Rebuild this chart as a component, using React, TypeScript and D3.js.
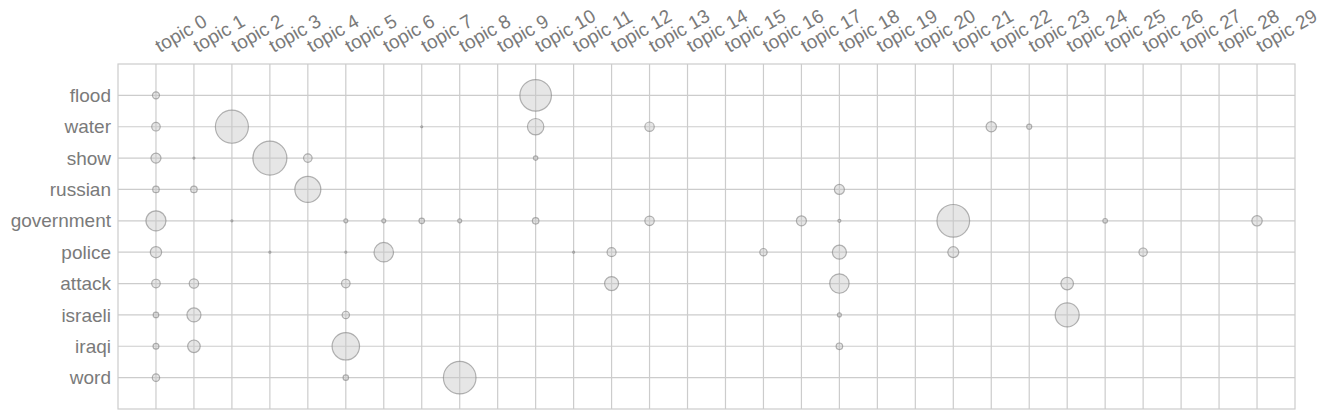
import * as d3 from "d3";
import { useEffect, useRef } from "react";

// topic labels along the top, words down the side
const topics = d3.range(30).map(i => "topic " + i);
const words = ["flood", "water", "show", "russian", "government", "police", "attack", "israeli", "iraqi", "word"];

// [topic index, weight] for each word
const flood = [[0, 0.013], [10, 0.259]];
const water = [[0, 0.019], [2, 0.283], [7, 0.001], [10, 0.07], [13, 0.023], [22, 0.028], [23, 0.0065]];
const show = [[0, 0.026], [1, 0.001], [3, 0.3], [4, 0.019], [10, 0.005]];
const russian = [[0, 0.011], [1, 0.011], [4, 0.175], [18, 0.026]];
const government = [[0, 0.104], [2, 0.001], [5, 0.004], [6, 0.004], [7, 0.008], [8, 0.004], [10, 0.011], [13, 0.023], [17, 0.026], [18, 0.0023], [21, 0.276], [25, 0.0055], [29, 0.028]];
const police = [[0, 0.033], [3, 0.001], [5, 0.001], [6, 0.098], [11, 0.001], [12, 0.021], [16, 0.014], [18, 0.051], [21, 0.031], [26, 0.018]];
const attack = [[0, 0.019], [1, 0.023], [5, 0.019], [12, 0.051], [18, 0.098], [24, 0.041]];
const israeli = [[0, 0.008], [1, 0.051], [5, 0.014], [18, 0.004], [24, 0.149]];
const iraqi = [[0, 0.009], [1, 0.041], [5, 0.195], [18, 0.011]];
const word = [[0, 0.014], [5, 0.0076], [8, 0.276]];

const rows = [flood, water, show, russian, government, police, attack, israeli, iraqi, word];

const App = () => {
    const ref = useRef(null);

    useEffect(() => {
        const svg = d3.select(ref.current);
        svg.selectAll("*").remove();

        const margin = { top: 64, left: 118 };
        const width = 1177, height = 345;
        const gridColor = "#cccccc";
        const textColor = "#7a7a7a";

        const x = d3.scaleLinear().domain([-1, topics.length]).range([0, width]);
        const y = d3.scaleLinear().domain([-1, words.length]).range([0, height]);
        const r = d3.scaleSqrt().domain([0, 0.3]).range([0, 17]);

        const g = svg.append("g").attr("transform", "translate(" + margin.left + "," + margin.top + ")");

        // grid
        g.selectAll(".vgrid").data(topics).enter().append("line")
            .attr("x1", (d, i) => x(i)).attr("x2", (d, i) => x(i))
            .attr("y1", 0).attr("y2", height)
            .attr("stroke", gridColor).attr("stroke-width", 1.2);
        g.selectAll(".hgrid").data(words).enter().append("line")
            .attr("y1", (d, i) => y(i)).attr("y2", (d, i) => y(i))
            .attr("x1", 0).attr("x2", width)
            .attr("stroke", gridColor).attr("stroke-width", 1.2);
        g.append("rect")
            .attr("width", width).attr("height", height)
            .attr("fill", "none").attr("stroke", gridColor).attr("stroke-width", 1.2);

        // y labels
        g.selectAll(".ylab").data(words).enter().append("text")
            .attr("x", -7)
            .attr("y", (d, i) => y(i))
            .attr("dy", "0.35em")
            .attr("text-anchor", "end")
            .attr("fill", textColor)
            .attr("font-family", "Liberation Sans, Arial, sans-serif")
            .attr("font-size", 19)
            .text(d => d);

        // x labels on top, rotated
        g.selectAll(".xlab").data(topics).enter().append("text")
            .attr("transform", (d, i) => "translate(" + (x(i) + 4) + "," + (-11) + ") rotate(-30)")
            .attr("text-anchor", "start")
            .attr("fill", textColor)
            .attr("font-family", "Liberation Sans, Arial, sans-serif")
            .attr("font-size", 19)
            .text(d => d);

        // bubbles
        const points = [];
        rows.forEach((row, wi) => {
            row.forEach(p => points.push({ word: wi, topic: p[0], value: p[1] }));
        });

        g.selectAll("circle").data(points).enter().append("circle")
            .attr("cx", d => x(d.topic))
            .attr("cy", d => y(d.word))
            .attr("r", d => r(d.value))
            .attr("fill", "rgba(200,200,200,0.45)")
            .attr("stroke", "rgba(130,130,130,0.6)")
            .attr("stroke-width", 1.2);
    });

    return (
        <svg ref={ref} width="1335" height="419" style={{ position: "absolute", left: 0, top: 0 }} />
    );
};

export default App;
